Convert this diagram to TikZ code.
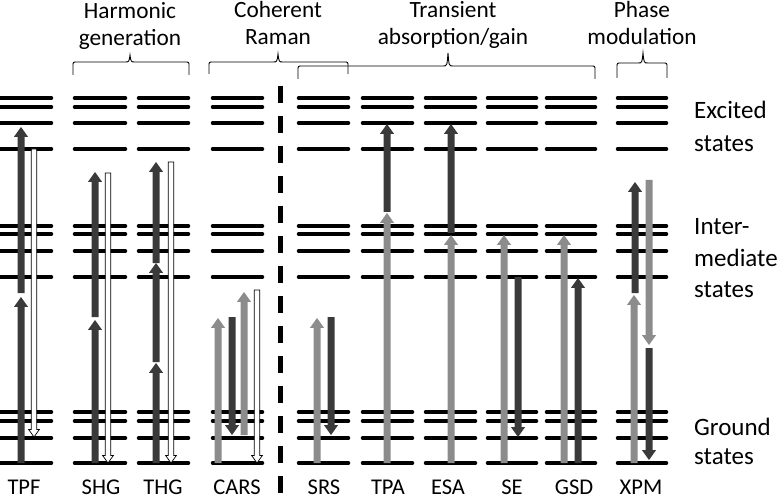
\documentclass[tikz,border=0pt]{standalone}
\usepackage{fontspec}
\setmainfont{Carlito}
\usetikzlibrary{positioning}

\definecolor{darkarr}{RGB}{58,58,58}
\definecolor{lightarr}{RGB}{140,140,140}

% block arrow: [shaft half width] style, x, start y, tip y
\newcommand{\blockarrow}[5][3.5]{%
  \pgfmathsetmacro\headbase{#5+(#4>#5?1:-1)*2.8*#1}
  \filldraw[#2] (#3-#1,#4) -- (#3-#1,\headbase) -- (#3-2*#1,\headbase) -- (#3,#5)
    -- (#3+2*#1,\headbase) -- (#3+#1,\headbase) -- (#3+#1,#4) -- cycle;
}
% brace: left x, right x, middle x, bar y, end y, tip y
\newcommand{\topbrace}[6]{%
  \draw[brace] (#1,#5) -- (#1,#4+4) .. controls (#1,#4) .. (#1+4,#4) -- (#3-5,#4)
    .. controls (#3-1,#4) .. (#3,#6) .. controls (#3+1,#4) .. (#3+5,#4)
    -- (#2-4,#4) .. controls (#2,#4) .. (#2,#4+4) -- (#2,#5);
}

\begin{document}
\begin{tikzpicture}[
x=1pt, y=-1pt,
every node/.style={inner sep=0pt, font=\fontsize{23.3}{27}\selectfont},
level/.style={line width=3.5pt, line cap=round},
dark/.style={fill=darkarr, draw=none},
light/.style={fill=lightarr, draw=none},
open/.style={fill=white, draw=black, line width=0.7pt},
brace/.style={line width=0.9pt},
side/.style={anchor=base west, font=\fontsize{25}{29}\selectfont},
method/.style={anchor=base, font=\fontsize{22.5}{26}\selectfont}
]
\useasboundingbox (0,0) rectangle (780,500);

% LEVELS
\foreach \xa/\xb in {0/51.5, 74.5/125.5, 138.5/188.5, 212.5/262.5, 298.5/348.5,
                     362.5/412.5, 425.5/475.5, 487.5/536.5, 546.5/595.5, 617.5/666.5}
  \foreach \y in {98,107,123,149,226,234,251,277,412,421,438,463}
    \draw[level] (\xa,\y) -- (\xb,\y);

% DIVIDER
\draw[line width=5pt, dash pattern=on 17pt off 13pt] (280,86) -- (280,497);

% TPF
\blockarrow{dark}{21}{463}{297}
\blockarrow{dark}{21}{293}{127}
\blockarrow[2.7]{open}{34}{149}{437}

% SHG
\blockarrow{dark}{95}{463}{320}
\blockarrow{dark}{95}{317}{172}
\blockarrow[2.7]{open}{108}{173}{463}

% THG
\blockarrow{dark}{156}{463}{363}
\blockarrow{dark}{156}{362}{263}
\blockarrow{dark}{156}{263}{162}
\blockarrow[2.7]{open}{171}{162}{463}

% CARS
\blockarrow{light}{218}{463}{318}
\blockarrow{dark}{232}{317}{435}
\blockarrow{light}{244}{435}{292}
\blockarrow[2.7]{open}{257}{290}{463}

% SRS
\blockarrow{light}{317}{463}{318}
\blockarrow{dark}{331}{317}{435}

% TPA
\blockarrow{light}{387}{463}{213}
\blockarrow{dark}{387}{212}{124}

% ESA
\blockarrow{light}{451}{463}{235}
\blockarrow{dark}{451}{233}{124}

% SE
\blockarrow{light}{504}{463}{235}
\blockarrow{dark}{518}{277}{437}

% GSD
\blockarrow{light}{564}{463}{235}
\blockarrow{dark}{578}{463}{278}

% XPM
\blockarrow{light}{634}{463}{295}
\blockarrow{dark}{635}{293}{182}
\blockarrow{light}{649}{180}{345}
\blockarrow{dark}{649}{348}{460}

% BRACES
\topbrace{73}{189}{130}{62}{75}{55}
\topbrace{209}{348}{278}{62}{74}{54}
\topbrace{298}{595}{448}{66}{79}{53}
\topbrace{617}{667}{643}{63}{78}{53}

% GROUP LABELS
\node (harm1) [anchor=base] at (130,19) {Harmonic};
\node (harm2) [anchor=base] at (130,46) {generation};
\node (coh1) [anchor=base] at (278,18) {Coherent};
\node (coh2) [anchor=base] at (278,45) {Raman};
\node (trans1) [anchor=base] at (453,18) {Transient};
\node (trans2) [anchor=base] at (453,45) {absorption/gain};
\node (phase1) [anchor=base] at (642,18) {Phase};
\node (phase2) [anchor=base] at (642,45) {modulation};

% STATE LABELS
\node (exc1) [side] at (694,119) {Excited};
\node (exc2) [side] at (694,152) {states};
\node (int1) [side] at (694,235) {Inter-};
\node (int2) [side] at (694,266) {mediate};
\node (int3) [side] at (694,297) {states};
\node (gnd1) [side] at (694,435) {Ground};
\node (gnd2) [side] at (694,464) {states};

% METHOD LABELS
\foreach \x/\t in {24/TPF, 101/SHG, 163/THG, 237/CARS, 324/SRS,
                   388/TPA, 448/ESA, 512/SE, 574/GSD, 641/XPM}
  \node (lab\t) [method] at (\x,494) {\t};

\end{tikzpicture}
\end{document}
